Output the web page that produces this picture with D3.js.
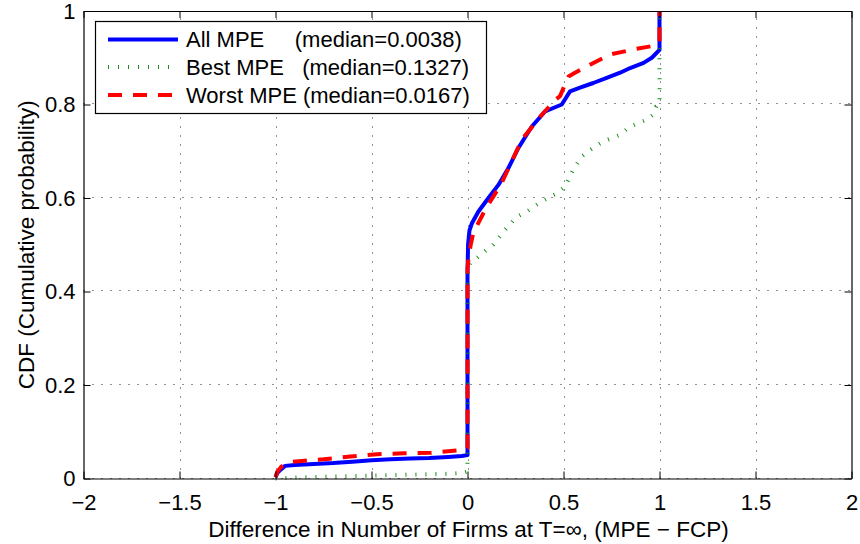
<!DOCTYPE html>
<html>
<head>
<meta charset="utf-8">
<script src="https://cdn.jsdelivr.net/npm/d3@7"></script>
<style>
  body { margin: 0; background: #fff; }
  text { font-family: "Liberation Sans", Arial, Helvetica, sans-serif; fill: #000; }
</style>
</head>
<body>
<svg id="chart" width="860" height="544"></svg>
<script>
// Axis ticks
const xTicks = [-2, -1.5, -1, -0.5, 0, 0.5, 1, 1.5, 2];
const yTicks = [0, 0.2, 0.4, 0.6, 0.8, 1];

// Empirical CDF of (MPE - FCP), all equilibria
const allX = [-1, -0.99, -0.97, -0.95, -0.9, -0.8, -0.7, -0.6, -0.5, -0.4, -0.3, -0.2, -0.1, -0.03, 0, 0, 0.003, 0.01, 0.023, 0.057, 0.109, 0.161, 0.213, 0.265, 0.335, 0.404, 0.45, 0.491, 0.534, 0.586, 0.655, 0.725, 0.795, 0.847, 0.917, 0.96, 1, 1];
const allY = [0.003, 0.012, 0.02, 0.027, 0.029, 0.031, 0.033, 0.036, 0.039, 0.041, 0.043, 0.044, 0.046, 0.048, 0.05, 0.44, 0.5, 0.53, 0.546, 0.571, 0.6, 0.628, 0.664, 0.707, 0.753, 0.785, 0.793, 0.8, 0.828, 0.836, 0.846, 0.857, 0.868, 0.878, 0.889, 0.9, 0.917, 1];

// Best equilibrium
const bestX = [-1, -0.9, -0.7, -0.5, -0.3, -0.1, -0.02, 0, 0, 0.014, 0.1, 0.133, 0.196, 0.257, 0.309, 0.387, 0.465, 0.509, 0.55, 0.595, 0.63, 0.664, 0.708, 0.75, 0.8, 0.836, 0.888, 0.935, 0.966, 0.983, 1, 1];
const bestY = [0, 0.002, 0.004, 0.006, 0.008, 0.01, 0.012, 0.015, 0.44, 0.46, 0.489, 0.5, 0.532, 0.56, 0.571, 0.593, 0.61, 0.625, 0.66, 0.689, 0.7, 0.71, 0.721, 0.728, 0.736, 0.75, 0.76, 0.768, 0.778, 0.796, 0.8, 1];

// Worst equilibrium
const worstX = [-1, -0.99, -0.97, -0.93, -0.85, -0.75, -0.61, -0.47, -0.33, -0.19, -0.05, -0.01, 0, 0, 0.005, 0.0167, 0.03, 0.092, 0.178, 0.283, 0.387, 0.457, 0.482, 0.526, 0.56, 0.638, 0.742, 0.88, 0.975, 1, 1];
const worstY = [0.003, 0.015, 0.025, 0.035, 0.038, 0.041, 0.047, 0.052, 0.054, 0.055, 0.06, 0.063, 0.065, 0.45, 0.47, 0.5, 0.525, 0.575, 0.632, 0.725, 0.778, 0.81, 0.818, 0.86, 0.868, 0.885, 0.907, 0.919, 0.926, 0.935, 1];

const legendLabels = [
  "All MPE     (median=0.0038)",
  "Best MPE   (median=0.1327)",
  "Worst MPE (median=0.0167)"
];

const series = [
  { xs: allX, ys: allY, color: "#0000ff", width: 4, dash: null },
  { xs: bestX, ys: bestY, color: "#1a8c1a", width: 4, dash: "1,9" },
  { xs: worstX, ys: worstY, color: "#ff0000", width: 4, dash: "14,11" }
];

const svg = d3.select("#chart");
const box = { left: 83.5, right: 851.5, top: 11, bottom: 478.5 };

const x = d3.scaleLinear().domain([-2, 2]).range([box.left, box.right]);
const y = d3.scaleLinear().domain([0, 1]).range([box.bottom, box.top]);

// Dotted grid
const grid = svg.append("g").attr("stroke", "#222").attr("stroke-width", 1).attr("stroke-dasharray", "1,8");
grid.selectAll("line.gx").data(xTicks.slice(1, -1)).join("line")
  .attr("x1", d => Math.round(x(d)) + 0.5).attr("x2", d => Math.round(x(d)) + 0.5)
  .attr("y1", box.bottom).attr("y2", box.top);
grid.selectAll("line.gy").data(yTicks.slice(0, -1)).join("line")
  .attr("y1", d => Math.round(y(d)) - 0.5).attr("y2", d => Math.round(y(d)) - 0.5)
  .attr("x1", box.left).attr("x2", box.right);

// Curves
const line = d3.line().x(d => x(d[0])).y(d => y(d[1]));
series.forEach(s => {
  svg.append("path")
    .datum(d3.zip(s.xs, s.ys))
    .attr("d", line)
    .attr("fill", "none")
    .attr("stroke", s.color)
    .attr("stroke-width", s.width)
    .attr("stroke-dasharray", s.dash)
    .attr("stroke-linejoin", "round");
});

// Axes with inward ticks on all four sides
const fmt = d3.format("");
const tickFont = 22;
function styleAxis(g) {
  g.selectAll("path.domain").attr("stroke", "#000").attr("stroke-width", 1.2);
  g.selectAll(".tick line").attr("stroke", "#000").attr("stroke-width", 1);
  g.selectAll("text").attr("font-size", tickFont).attr("font-family", '"Liberation Sans", Arial, sans-serif').attr("fill", "#000");
}
svg.append("g").attr("transform", `translate(0,${box.bottom})`)
  .call(d3.axisBottom(x).tickValues(xTicks).tickFormat(fmt).tickSize(-7).tickSizeOuter(0).tickPadding(16))
  .call(styleAxis);
svg.append("g").attr("transform", `translate(0,${box.top})`)
  .call(d3.axisTop(x).tickValues(xTicks).tickFormat("").tickSize(-7).tickSizeOuter(0))
  .call(styleAxis);
svg.append("g").attr("transform", `translate(${box.left},0)`)
  .call(d3.axisLeft(y).tickValues(yTicks).tickFormat(fmt).tickSize(-7).tickSizeOuter(0).tickPadding(8))
  .call(styleAxis);
svg.append("g").attr("transform", `translate(${box.right},0)`)
  .call(d3.axisRight(y).tickValues(yTicks).tickFormat("").tickSize(-7).tickSizeOuter(0))
  .call(styleAxis);

// Axis titles
svg.append("text")
  .attr("x", (box.left + box.right) / 2 + 1).attr("y", 537)
  .attr("text-anchor", "middle").attr("font-size", 22.5)
  .text("Difference in Number of Firms at T=\u221E, (MPE \u2212 FCP)");
svg.append("text")
  .attr("transform", `translate(34,${(box.top + box.bottom) / 2}) rotate(-90)`)
  .attr("text-anchor", "middle").attr("font-size", 22.5)
  .text("CDF (Cumulative probability)");

// Legend
const legend = svg.append("g");
legend.append("rect")
  .attr("x", 95.5).attr("y", 21.5).attr("width", 391).attr("height", 92)
  .attr("fill", "#fff").attr("stroke", "#000").attr("stroke-width", 1.2);
const rowY = [39.5, 67, 95];
series.forEach((s, i) => {
  legend.append("line")
    .attr("x1", 108).attr("x2", 178).attr("y1", rowY[i]).attr("y2", rowY[i])
    .attr("stroke", s.color).attr("stroke-width", s.width)
    .attr("stroke-dasharray", s.dash);
  legend.append("text")
    .attr("x", 186).attr("y", rowY[i]).attr("dy", "0.36em")
    .attr("font-size", 22)
    .attr("xml:space", "preserve").style("white-space", "pre")
    .text(legendLabels[i]);
});
</script>
</body>
</html>
